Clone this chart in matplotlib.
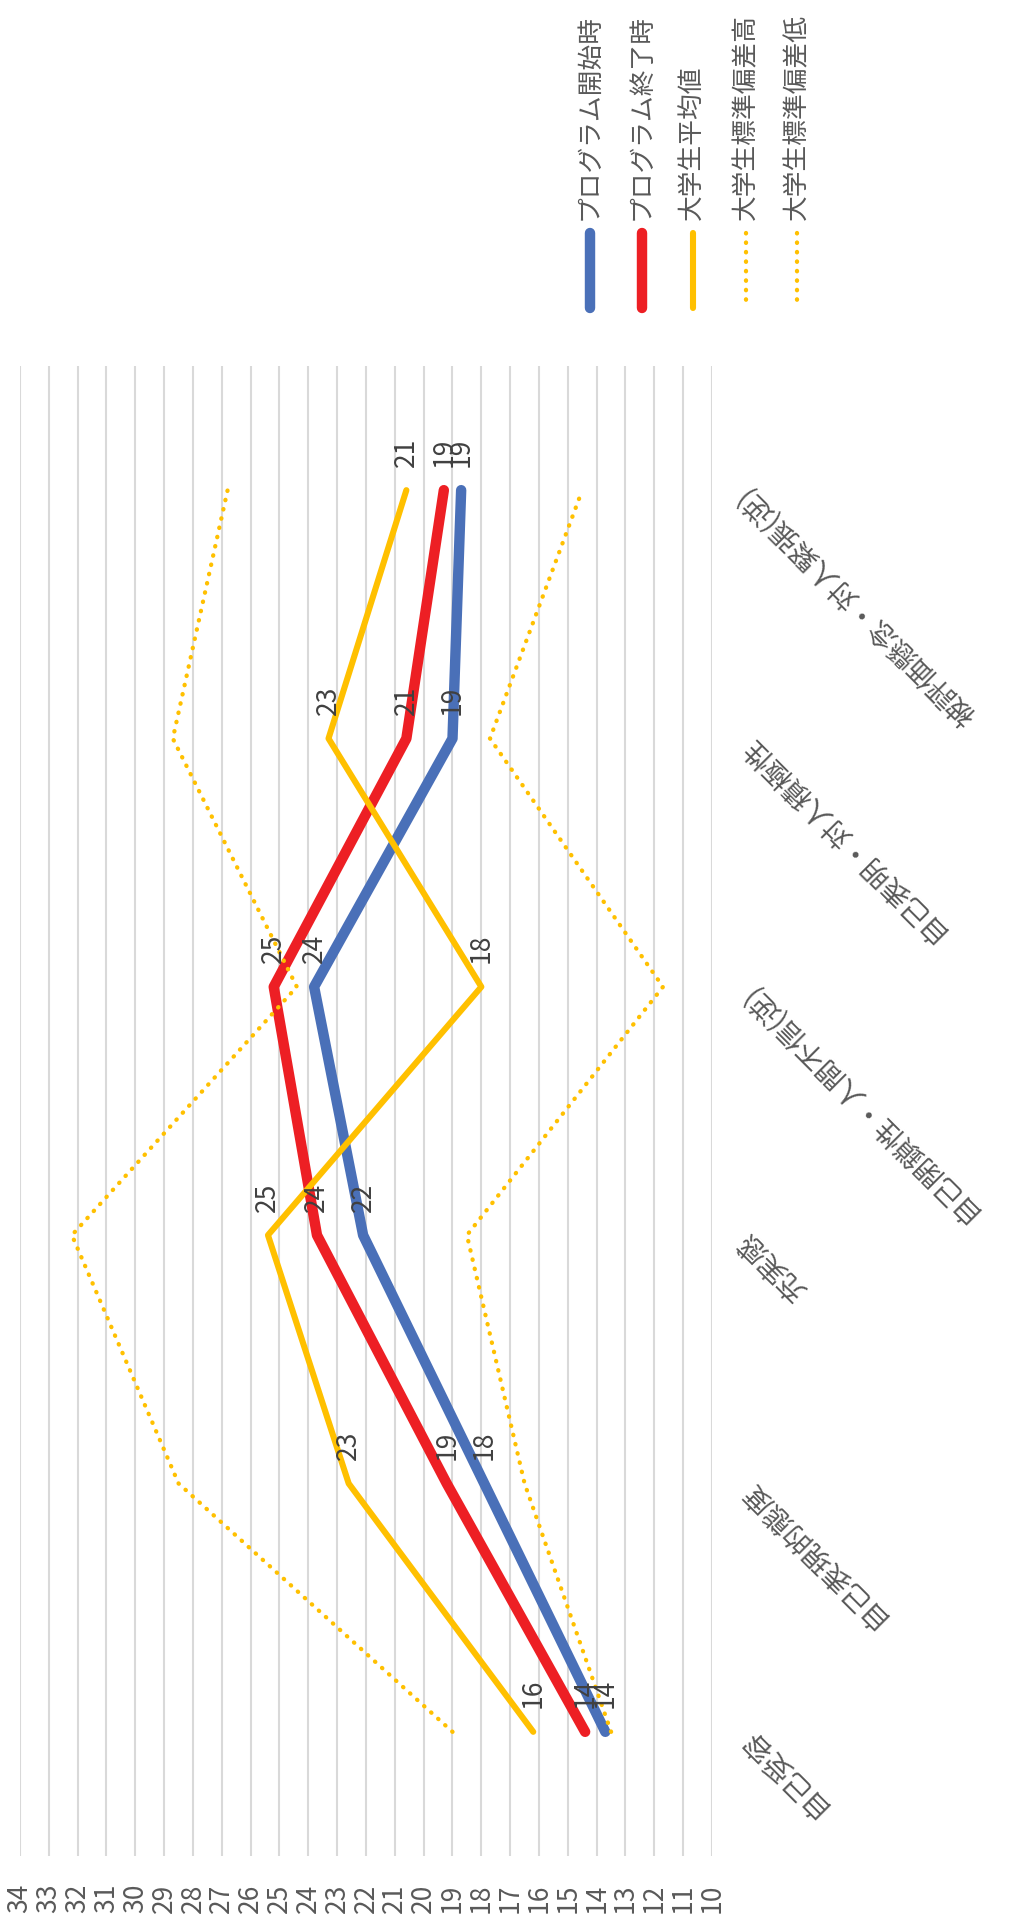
import matplotlib
matplotlib.use('Agg')
import matplotlib.pyplot as plt

plt.rcParams['font.family'] = ['Noto Sans CJK JP', 'DejaVu Sans']

# scale scores, first category is drawn at the bottom
categories = ['自己受容', '自己表現的態度', '充実感', '自己閉鎖性・人間不信(逆)',
              '自己表明・対人積極性', '被評価懸念・対人緊張(逆)']
series_names = ['プログラム開始時', 'プログラム終了時', '大学生平均値',
                '大学生標準偏差高', '大学生標準偏差低']
start_vals = [13.7, 17.9, 22.1, 23.8, 19.0, 18.7]
end_vals = [14.4, 19.2, 23.7, 25.2, 20.6, 19.3]
mean_vals = [16.2, 22.6, 25.4, 18.0, 23.3, 20.6]
sd_high = [19.0, 28.5, 32.2, 24.4, 28.7, 26.8]
sd_low = [13.5, 16.5, 18.5, 11.7, 17.7, 14.5]
value_ticks = list(range(10, 35))

W, H = 1009, 1926
GRAY = '#595959'

solid_thick = dict(lw=7.5, solid_capstyle='round', solid_joinstyle='round')
solid_thin = dict(lw=4.4, solid_capstyle='round', solid_joinstyle='round')
dotted = dict(lw=3.1, ls=(0, (0.1, 2.1)), dash_capstyle='round')

series = [
    (start_vals, dict(color='#4a70b8', **solid_thick), True),
    (end_vals, dict(color='#ed1f24', **solid_thick), True),
    (mean_vals, dict(color='#ffc000', **solid_thin), True),
    (sd_high, dict(color='#ffc000', **dotted), False),
    (sd_low, dict(color='#ffc000', **dotted), False),
]

fig = plt.figure(figsize=(W / 100, H / 100), dpi=100)
fig.patch.set_facecolor('white')

# plot area: values run right to left, categories bottom to top
left, right, top, bottom = 20, 712, 366, 1856
ax = fig.add_axes([left / W, 1 - bottom / H, (right - left) / W, (bottom - top) / H])
pos = list(range(1, len(categories) + 1))
ax.set_xlim(34, 10)
ax.set_ylim(0.5, len(categories) + 0.5)
for s in ax.spines.values():
    s.set_visible(False)

ax.set_xticks(value_ticks)
ax.grid(axis='x', color='#d9d9d9', lw=1.5)
ax.set_axisbelow(True)
ax.tick_params(axis='x', length=0, pad=20, labelsize=19, labelcolor=GRAY,
               labelrotation=90)

ax.yaxis.tick_right()
ax.set_yticks(pos)
ax.set_yticklabels(categories)
ax.tick_params(axis='y', length=0, pad=22, labelsize=20, labelcolor=GRAY)
for lab in ax.get_yticklabels():
    lab.set_rotation(135)
    lab.set_rotation_mode('anchor')
    lab.set_ha('right')
    lab.set_va('center')

for vals, style, labelled in series:
    ax.plot(vals, pos, **style)
    if labelled:
        for v, p in zip(vals, pos):
            ax.annotate(f'{v:.0f}', (v, p), xytext=(0, 17), textcoords='offset points',
                        rotation=90, ha='center', va='bottom', fontsize=19,
                        color='#404040')

# legend, drawn in pixel space
lax = fig.add_axes([0, 0, 1, 1])
lax.set_xlim(0, W)
lax.set_ylim(H, 0)
lax.axis('off')
leg_x = [590, 642, 693, 746, 797]
for x, name, (vals, style, labelled) in zip(leg_x, series_names, series):
    lax.plot([x, x], [233, 308], **style)
    lax.text(x, 220, name, rotation=90, ha='center', va='bottom', fontsize=18.5,
             color=GRAY)

fig.savefig('out.png', dpi=100, facecolor='white')
